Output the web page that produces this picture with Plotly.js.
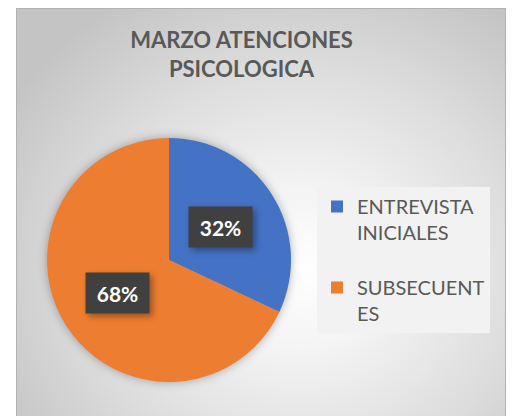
<!DOCTYPE html>
<html>
<head>
<meta charset="utf-8">
<script src="https://cdn.plot.ly/plotly-3.0.1.min.js"></script>
<style>
  html, body { margin: 0; padding: 0; background: #ffffff; }
  #wrap { position: relative; width: 512px; height: 416px; overflow: hidden; }
  #frame {
    position: absolute; left: 16px; top: 8px; width: 488px; height: 420px;
    border: 1px solid #b2b2b2;
    background: radial-gradient(ellipse 70% 75% at 58% 62%, #ffffff 0%, #f4f4f4 25%, #dcdcdc 65%, #c4c4c4 100%);
  }
  #chart { position: absolute; left: 0; top: 0; width: 512px; height: 416px; }
  .pielayer { filter: drop-shadow(0px 0px 5px rgba(0,0,0,0.30)); }
  .annotation rect.bg { filter: drop-shadow(3px 3px 3px rgba(0,0,0,0.35)); }
</style>
</head>
<body>
<div id="wrap">
  <div id="frame"></div>
  <div id="chart"></div>
</div>
<script>
// ---- data ----
const categories = ['ENTREVISTA INICIALES', 'SUBSECUENTES'];
const legendLabels = ['ENTREVISTA<br>INICIALES<br> ', 'SUBSECUENT<br>ES'];
const values = [32, 68];
const sliceColors = ['#4472C4', '#ED7D31'];
const titleText = 'MARZO ATENCIONES<br>PSICOLOGICA';

// ---- geometry ----
const W = 512, H = 416;
const pieCx = 169, pieCy = 260, pieR = 122;
const domX = [(pieCx - pieR) / W, (pieCx + pieR) / W];
const domY = [1 - (pieCy + pieR) / H, 1 - (pieCy - pieR) / H];

const total = values.reduce((a, b) => a + b, 0);
let cum = 0;
const annotations = values.map((v, i) => {
  const frac = v / total;
  const mid = (cum + frac / 2) * 2 * Math.PI; // clockwise from 12 o'clock
  cum += frac;
  const px = pieCx + 0.5 * pieR * Math.sin(mid);
  const py = pieCy - 0.5 * pieR * Math.cos(mid);
  return {
    x: px / W, y: 1 - py / H, xref: 'paper', yref: 'paper',
    xanchor: 'center', yanchor: 'middle', showarrow: false,
    text: '<b>' + Math.round(frac * 100) + '%</b>',
    font: { family: 'Lato, sans-serif', size: 21, color: '#ffffff' },
    bgcolor: '#404040', width: 59, height: 36, borderpad: 2
  };
});

const trace = {
  type: 'pie',
  labels: legendLabels,
  values: values,
  sort: false,
  direction: 'clockwise',
  rotation: 0,
  textinfo: 'none',
  hoverinfo: 'label+percent',
  marker: { colors: sliceColors, line: { width: 0 } },
  domain: { x: domX, y: domY }
};

const layout = {
  width: W, height: H,
  margin: { l: 0, r: 0, t: 0, b: 0 },
  paper_bgcolor: 'rgba(0,0,0,0)',
  plot_bgcolor: 'rgba(0,0,0,0)',
  title: {
    text: '<b>' + titleText + '</b>',
    font: { family: 'Lato, sans-serif', size: 22, color: '#595959' },
    x: 241.5 / W, xanchor: 'center', xref: 'paper',
    y: 1 - 48 / H, yanchor: 'middle', yref: 'paper'
  },
  showlegend: true,
  legend: {
    x: 317 / W, xanchor: 'left',
    y: 1 - 187 / H, yanchor: 'top',
    bgcolor: '#f2f2f2', borderwidth: 0,
    valign: 'top',
    font: { family: 'Lato, sans-serif', size: 20, color: '#595959' }
  },
  annotations: annotations
};

Plotly.newPlot('chart', [trace], layout, { displayModeBar: false, staticPlot: true });
</script>
</body>
</html>
